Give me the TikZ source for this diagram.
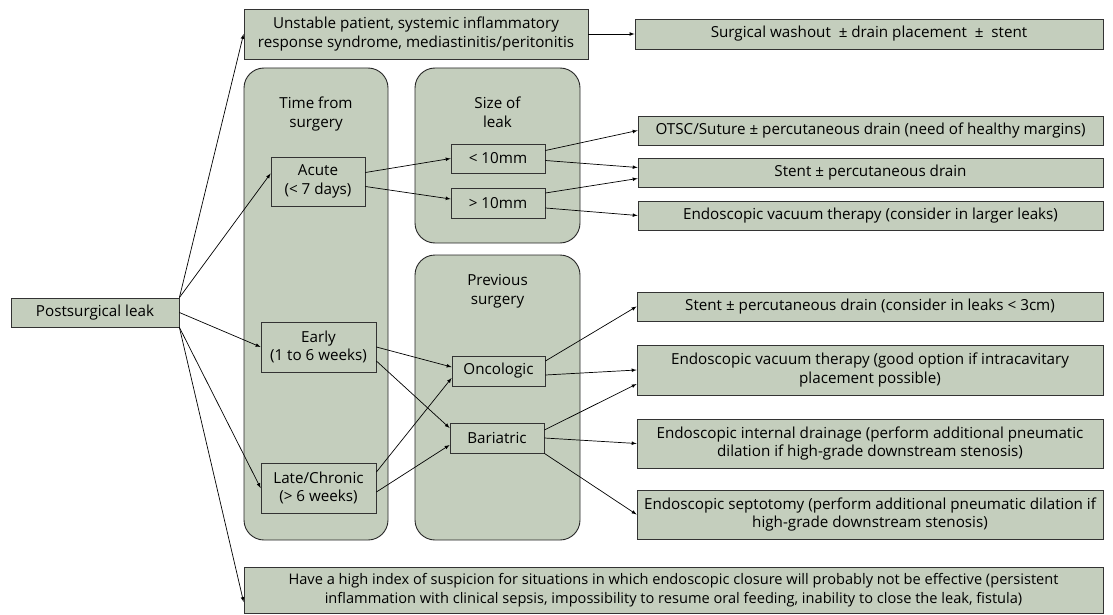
\documentclass[tikz,border=0pt]{standalone}
\usepackage{fontspec}
\setmainfont{Open Sans}
\usetikzlibrary{positioning}
\definecolor{sage}{RGB}{196,206,189}
\tikzset{>=latex,
    box/.style={draw=black!80,fill=sage,line width=0.8pt,inner sep=0pt,align=center,
        font=\fontsize{15.2}{18.5}\selectfont},
    group/.style={draw=black!85,fill=sage,line width=0.9pt,rounded corners=20pt,inner sep=0pt},
    grouptitle/.style={align=center,font=\fontsize{15.2}{19}\selectfont},
    link/.style={->,line width=0.7pt}
}

\begin{document}
\begin{tikzpicture}[x=1pt,y=-1pt]
    \useasboundingbox (0,0) rectangle (1113,615);
    % the three rounded groups
    \node[group,minimum width=144pt,minimum height=472pt] (timegrp) at (316,304) {};
    \node[group,minimum width=165pt,minimum height=175pt] (sizegrp) at (497.5,155.5) {};
    \node[group,minimum width=165pt,minimum height=285pt] (prevgrp) at (497.5,397.5) {};
    \node[grouptitle] (timettl) at ([yshift=-46pt]timegrp.north) {Time from\\surgery};
    \node[grouptitle] (sizettl) at ([yshift=-45pt]sizegrp.north) {Size of\\leak};
    \node[grouptitle] (prevttl) at ([yshift=-37pt]prevgrp.north) {Previous\\surgery};

    % boxes
    \node[box,minimum width=168pt,minimum height=29pt] (leak) at (95,312.5) {Postsurgical leak};
    \node[box,minimum width=344pt,minimum height=50pt] (unstable) at (416,34)
        {Unstable patient, systemic inflammatory\\response syndrome, mediastinitis/peritonitis};
    \node[box,minimum width=468pt,minimum height=30pt] (washout) at (869,34)
        {Surgical washout \ ± drain placement \ ± \ stent};
    \node[box,minimum width=94pt,minimum height=49pt] (acute) at (318,181.5) {Acute\\(< 7 days)};
    \node[box,minimum width=115pt,minimum height=50pt] (early) at (318.5,347) {Early\\(1 to 6 weeks)};
    \node[box,minimum width=115pt,minimum height=50pt] (late) at (318.5,488) {Late/Chronic\\(> 6 weeks)};
    \node[box,minimum width=94pt,minimum height=29pt] (lt10) at (498,158.5) {< 10mm};
    \node[box,minimum width=94pt,minimum height=30pt] (gt10) at (498,203) {> 10mm};
    \node[box,minimum width=93pt,minimum height=30pt] (onco) at (498.5,371) {Oncologic};
    \node[box,minimum width=94pt,minimum height=30pt] (bari) at (497,438) {Bariatric};
    \node[box,minimum width=465pt,minimum height=29pt] (otsc) at (870.5,130.5)
        {OTSC/Suture ± percutaneous drain (need of healthy margins)};
    \node[box,minimum width=465pt,minimum height=29pt] (stent) at (870.5,172.5)
        {Stent ± percutaneous drain};
    \node[box,minimum width=465pt,minimum height=29pt] (evt) at (870.5,215.5)
        {Endoscopic vacuum therapy (consider in larger leaks)};
    \node[box,minimum width=466pt,minimum height=29pt] (stentsmall) at (870,306.5)
        {Stent ± percutaneous drain (consider in leaks < 3cm)};
    \node[box,minimum width=466pt,minimum height=50pt] (evtcavity) at (870,370)
        {Endoscopic vacuum therapy (good option if intracavitary\\placement possible)};
    \node[box,minimum width=466pt,minimum height=49pt] (intdrain) at (870,443.5)
        {Endoscopic internal drainage (perform additional pneumatic\\dilation if high-grade downstream stenosis)};
    \node[box,minimum width=466pt,minimum height=49pt] (septo) at (870,514.5)
        {Endoscopic septotomy (perform additional pneumatic dilation if\\high-grade downstream stenosis)};
    \node[box,minimum width=859pt,minimum height=46pt,font=\fontsize{14.6}{19}\selectfont] (suspicion) at (673.5,590)
        {Have a high index of suspicion for situations in which endoscopic closure will probably not be effective (persistent\\inflammation with clinical sepsis, impossibility to resume oral feeding, inability to close the leak, fistula)};

    % connectors
    \draw[link] (leak.north east) -- (unstable.west);
    \draw[link] (leak.north east) -- ([yshift=8pt]acute.west);
    \draw[link] (leak.east) -- (early.west);
    \draw[link] (leak.south east) -- (late.west);
    \draw[link] (leak.south east) -- ([yshift=-12pt]suspicion.west);
    \draw[link] (unstable.east) -- (washout.west);
    \draw[link] ([yshift=9pt]acute.east) -- (lt10.west);
    \draw[link] ([yshift=-5pt]acute.east) -- ([yshift=4pt]gt10.west);
    \draw[link] ([yshift=8pt]lt10.east) -- (otsc.west);
    \draw[link] ([yshift=-2pt]lt10.east) -- ([yshift=5pt]stent.west);
    \draw[link] ([yshift=10pt]gt10.east) -- ([yshift=-6pt]stent.west);
    \draw[link] ([yshift=-5pt]gt10.east) -- (evt.west);
    \draw[link] (early.east) -- ([yshift=4pt]onco.west);
    \draw[link] ([yshift=-14pt]early.east) -- ([yshift=10pt]bari.west);
    \draw[link] ([yshift=16pt]late.east) -- ([yshift=-7pt]onco.west);
    \draw[link] ([yshift=-4pt]late.east) -- ([yshift=-7pt]bari.west);
    \draw[link] ([yshift=10pt]onco.east) -- (stentsmall.west);
    \draw[link] ([yshift=-4pt]onco.east) -- (evtcavity.west);
    \draw[link] ([yshift=8pt]bari.east) -- ([yshift=-14pt]evtcavity.west);
    \draw[link] (bari.east) -- (intdrain.west);
    \draw[link] (bari.south east) -- (septo.west);
\end{tikzpicture}
\end{document}
